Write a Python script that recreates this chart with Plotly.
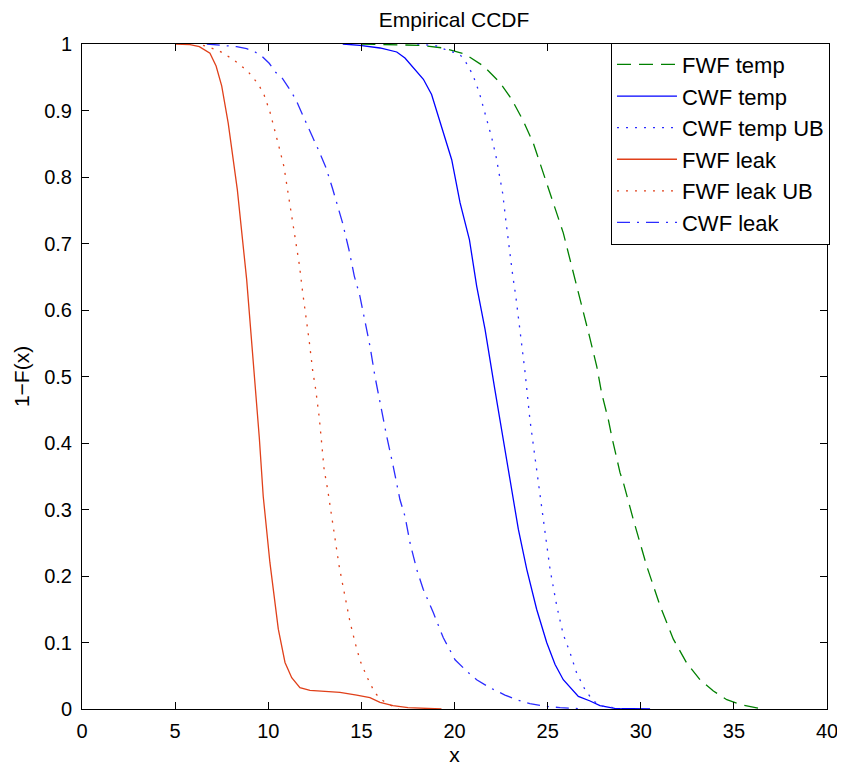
import plotly.graph_objects as go

# ---- data (x, 1-F(x)) ----
fwf_temp_x = [15.0, 17.0, 18.15, 19.4, 19.94, 20.56, 21.55, 22.44, 23.07, 23.7, 24.23, 24.77, 25.31,
              25.84, 26.2, 26.74, 27.24, 27.64, 27.9, 28.26, 28.44, 28.89, 29.07, 29.6, 30.32, 31.04,
              31.75, 32.47, 33.18, 33.9, 34.62, 35.33, 36.05, 36.5]
fwf_temp_y = [1.0, 0.999, 0.998, 0.994, 0.99, 0.985, 0.967, 0.942, 0.917, 0.884, 0.851, 0.806, 0.761,
              0.716, 0.676, 0.618, 0.561, 0.515, 0.475, 0.435, 0.41, 0.355, 0.34, 0.285, 0.215, 0.155,
              0.105, 0.069, 0.044, 0.027, 0.014, 0.007, 0.002, 0.0]

cwf_temp_x = [14.0, 14.92, 16.0, 16.9, 17.34, 17.88, 18.33, 18.77, 19.22, 19.85, 20.3, 20.8, 21.19,
              21.64, 22.17, 22.62, 22.98, 23.43, 23.88, 24.41, 24.95, 25.4, 25.84, 26.3, 26.65, 27.28,
              27.81, 28.6, 30.5]
cwf_temp_y = [1.0, 0.998, 0.994, 0.988, 0.979, 0.962, 0.947, 0.924, 0.884, 0.826, 0.761, 0.706, 0.636,
              0.571, 0.48, 0.405, 0.345, 0.27, 0.21, 0.15, 0.1, 0.067, 0.044, 0.029, 0.019, 0.012,
              0.005, 0.001, 0.0]

cwf_temp_ub_x = [18.0, 19.04, 19.49, 20.3, 20.62, 20.98, 21.33, 21.73, 22.0, 22.23, 22.41, 22.59, 22.75,
                 22.93, 23.13, 23.29, 23.43, 23.52, 23.79, 24.05, 24.32, 24.63, 24.86, 25.13, 25.49,
                 25.84, 26.2, 26.56, 27.01, 27.45, 27.99, 29.0]
cwf_temp_ub_y = [1.0, 0.997, 0.992, 0.984, 0.972, 0.954, 0.927, 0.886, 0.859, 0.831, 0.804, 0.775, 0.736,
                 0.694, 0.651, 0.621, 0.591, 0.563, 0.506, 0.435, 0.38, 0.32, 0.265, 0.21, 0.155,
                 0.112, 0.085, 0.054, 0.029, 0.012, 0.004, 0.0]

fwf_leak_x = [5.0, 5.8, 6.3, 6.87, 7.2, 7.5, 7.85, 8.34, 8.84, 9.2, 9.52, 9.73, 10.09, 10.54, 10.9, 11.26,
              11.7, 12.24, 13.85, 14.75, 15.46, 16.0, 16.7, 17.5, 19.3]
fwf_leak_y = [1.0, 0.999, 0.996, 0.986, 0.967, 0.937, 0.881, 0.781, 0.646, 0.521, 0.408, 0.32, 0.22, 0.12,
              0.07, 0.047, 0.032, 0.028, 0.025, 0.021, 0.017, 0.010, 0.005, 0.002, 0.0]

fwf_leak_ub_x = [6.5, 7.35, 8.1, 8.87, 9.46, 9.77, 10.09, 10.36, 10.59, 10.84, 11.0, 11.26, 11.43, 11.67,
                 11.85, 12.0, 12.2, 12.38, 12.55, 12.74, 12.85, 13.0, 13.19, 13.4, 13.62, 13.8, 13.99,
                 14.17, 14.39, 14.66, 14.94, 15.32, 15.73, 16.09, 16.4, 17.0]
fwf_leak_ub_y = [0.998, 0.99, 0.977, 0.96, 0.94, 0.924, 0.898, 0.871, 0.844, 0.816, 0.788, 0.746, 0.711,
                 0.668, 0.626, 0.597, 0.553, 0.51, 0.48, 0.438, 0.409, 0.36, 0.33, 0.288, 0.245, 0.216,
                 0.188, 0.16, 0.131, 0.1, 0.072, 0.047, 0.024, 0.014, 0.008, 0.0]

cwf_leak_x = [6.7, 7.77, 8.3, 8.84, 9.29, 9.65, 10.05, 10.41, 10.77, 11.26, 11.52, 11.74, 12.06, 12.38,
              12.69, 13.1, 13.46, 13.58, 13.99, 14.33, 14.62, 14.92, 15.19, 15.46, 15.73, 16.0, 16.36,
              16.71, 17.07, 17.34, 17.61, 17.97, 18.32, 18.86, 19.4, 20.03, 20.65, 21.19, 21.9, 22.71,
              23.34, 24.05, 24.95, 25.67, 27.0]
cwf_leak_y = [1.0, 0.998, 0.996, 0.993, 0.988, 0.982, 0.971, 0.957, 0.948, 0.927, 0.914, 0.9, 0.879, 0.86,
              0.841, 0.814, 0.782, 0.771, 0.731, 0.691, 0.651, 0.621, 0.586, 0.546, 0.5, 0.46, 0.41,
              0.365, 0.315, 0.29, 0.25, 0.21, 0.18, 0.145, 0.107, 0.074, 0.057, 0.044, 0.032, 0.021,
              0.014, 0.008, 0.004, 0.002, 0.0]

series = [
    ("FWF temp", fwf_temp_x, fwf_temp_y, "#008000", "14px,8px"),
    ("CWF temp", cwf_temp_x, cwf_temp_y, "#0000FF", "solid"),
    ("CWF temp UB", cwf_temp_ub_x, cwf_temp_ub_y, "#2b2bff", "2px,7px"),
    ("FWF leak", fwf_leak_x, fwf_leak_y, "#E0401A", "solid"),
    ("FWF leak UB", fwf_leak_ub_x, fwf_leak_ub_y, "#E0401A", "2px,7px"),
    ("CWF leak", cwf_leak_x, cwf_leak_y, "#2b2bff", "13px,7px,2px,7px"),
]

fig = go.Figure()
for name, xs, ys, color, dash in series:
    fig.add_trace(go.Scatter(x=xs, y=ys, mode="lines", name=name,
                             line=dict(color=color, width=1.3, dash=dash)))

font_family = "Liberation Sans, Arial, sans-serif"
axis_common = dict(showgrid=False, zeroline=False, showline=True, linecolor="black",
                   linewidth=1, mirror="ticks", ticks="inside", ticklen=7, tickcolor="black",
                   automargin=False,
                   tickfont=dict(size=20, color="black", family=font_family))

# the page body adds an 8px offset, so the figure is 8px smaller and margins shifted
fig.update_layout(
    width=837, height=761,
    margin=dict(l=74, r=18, t=36, b=60),
    paper_bgcolor="white", plot_bgcolor="white",
    font=dict(family=font_family, color="black"),
    title=dict(text="Empirical CCDF", x=0.533, xanchor="center", y=0.985, yanchor="middle",
               font=dict(size=21, color="black", family=font_family)),
    xaxis=dict(range=[0, 40], dtick=5, tick0=0, ticklabelstandoff=4,
               title=dict(text="x", font=dict(size=21), standoff=6), **axis_common),
    yaxis=dict(range=[0, 1], dtick=0.1, tick0=0, ticklabelstandoff=5,
               title=dict(text="1\u2212F(x)", font=dict(size=21), standoff=8), **axis_common),
    legend=dict(x=1.004, xanchor="right", y=1.002, yanchor="top",
                bordercolor="black", borderwidth=1, bgcolor="white",
                font=dict(size=22, color="black", family=font_family),
                tracegroupgap=0, itemwidth=60),
    showlegend=True,
)

fig.write_html("out.html")
